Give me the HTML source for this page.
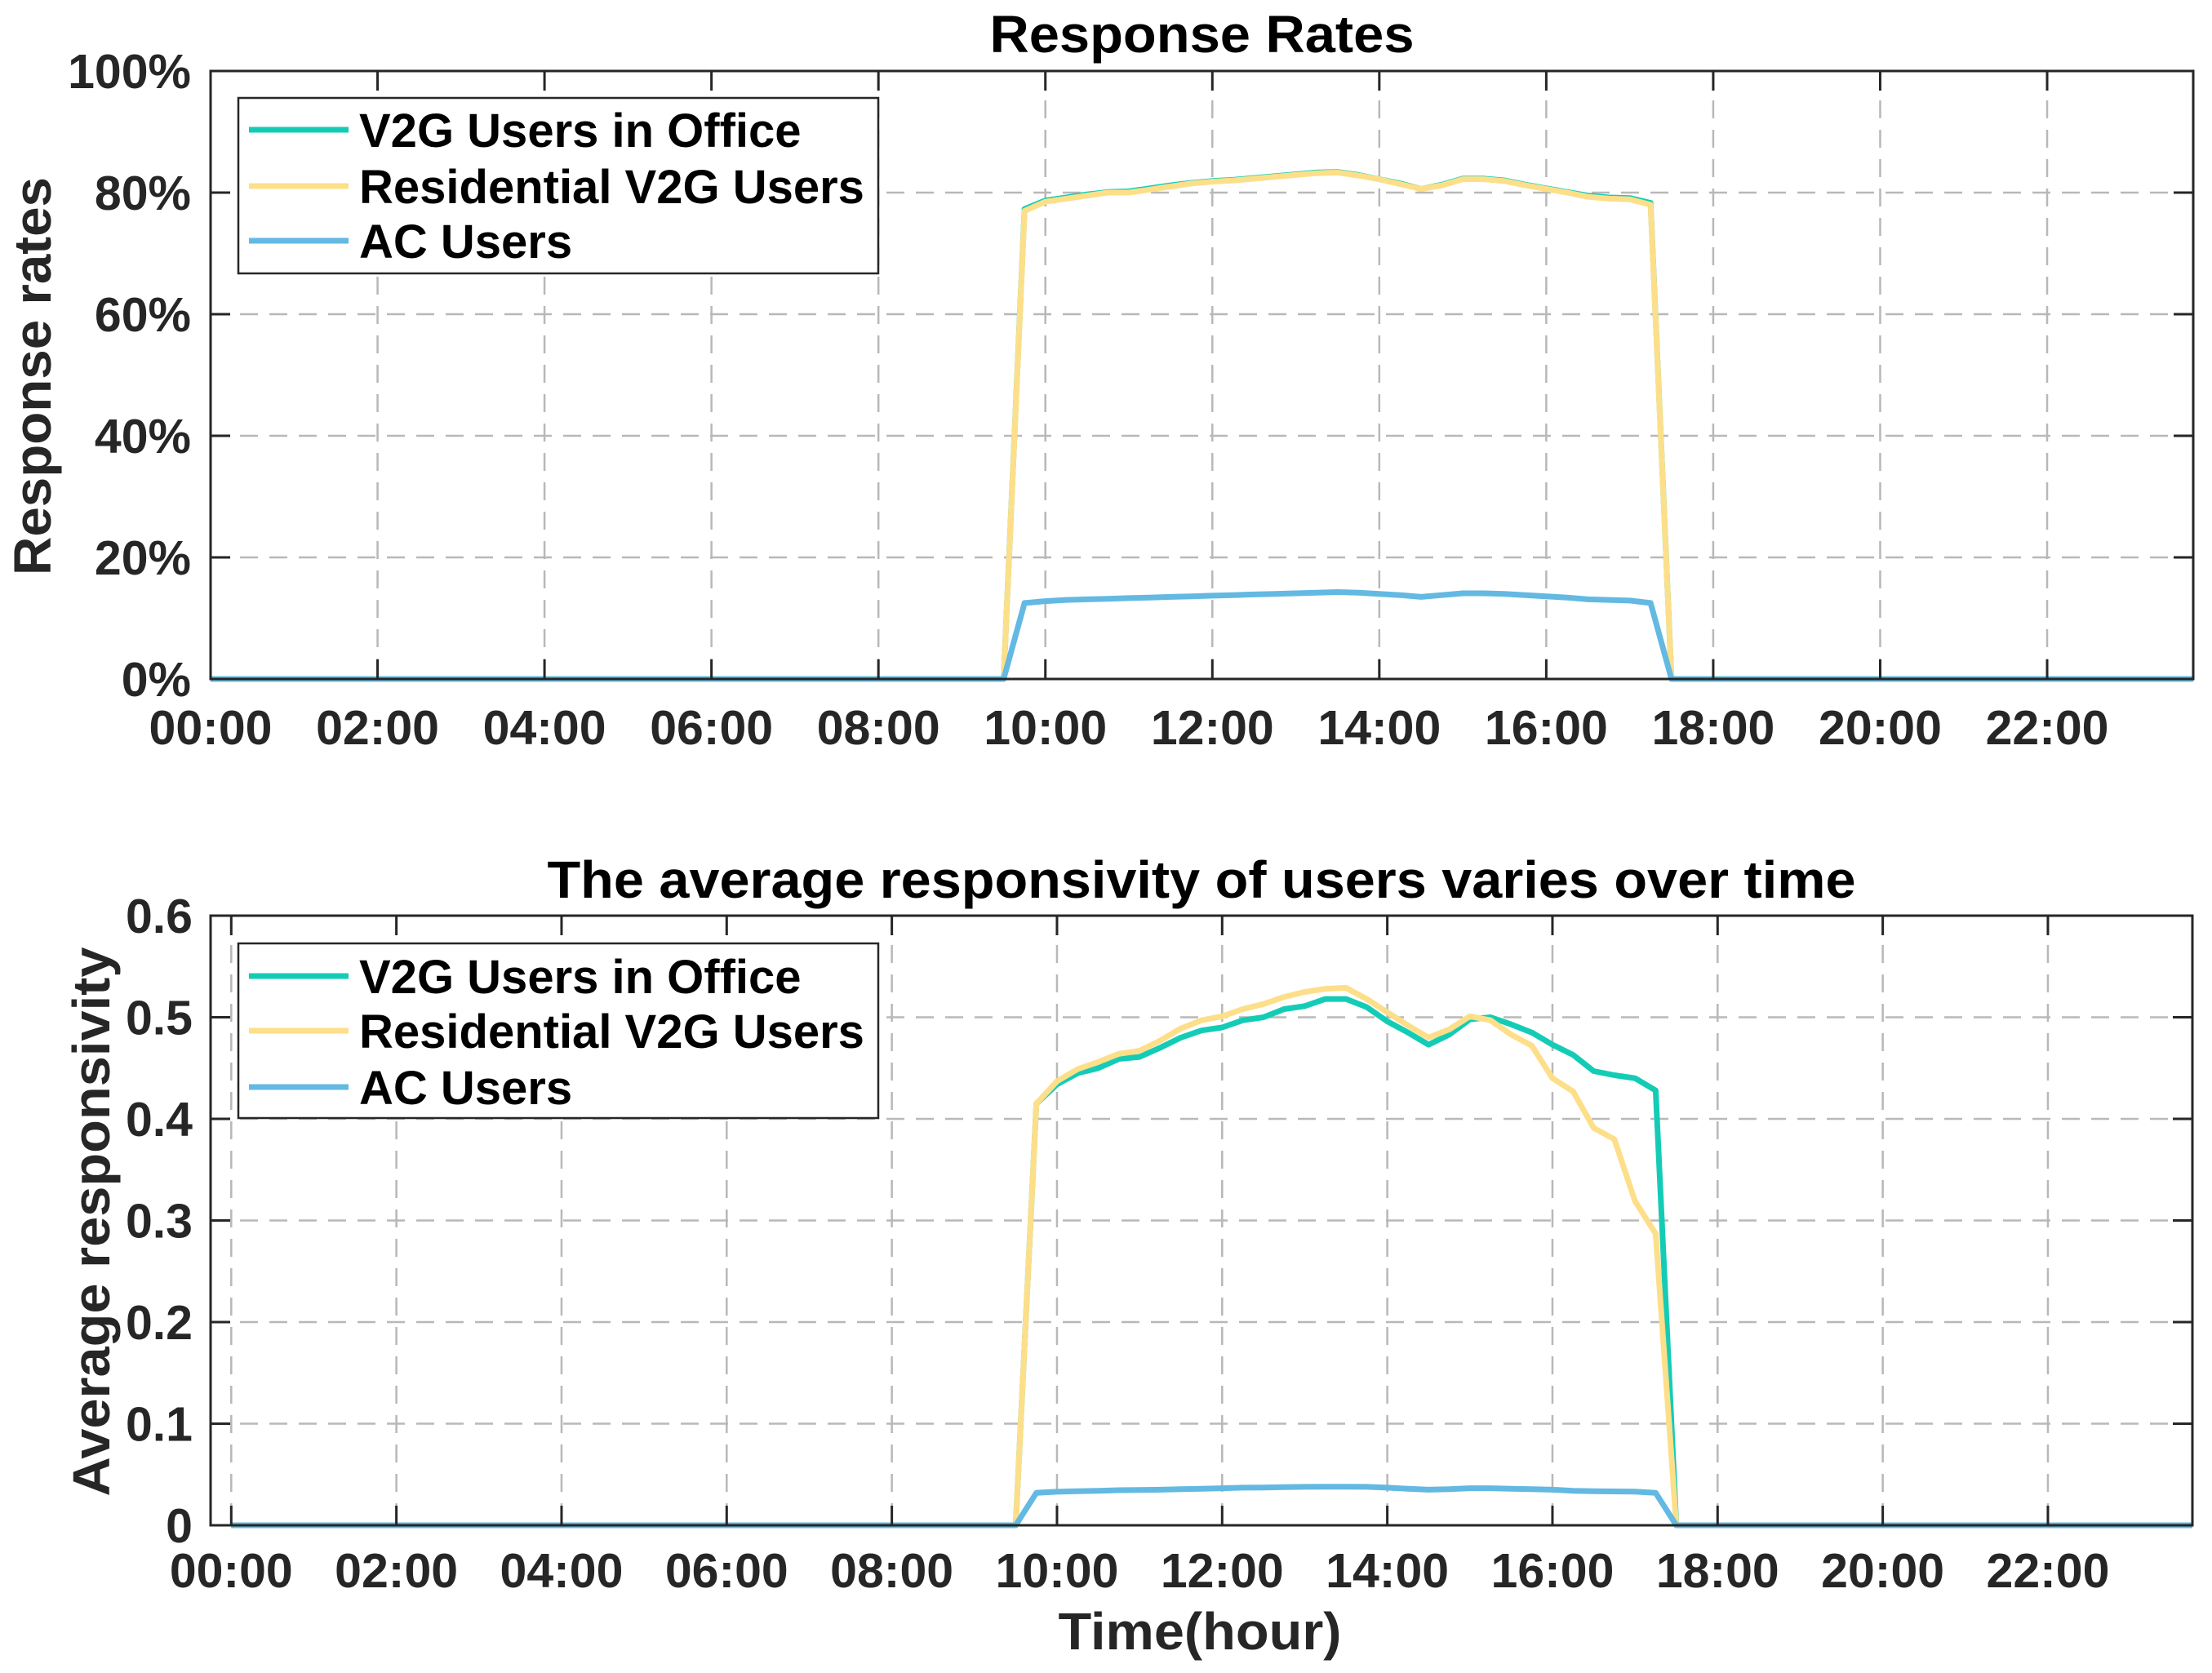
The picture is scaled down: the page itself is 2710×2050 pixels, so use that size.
<!DOCTYPE html>
<html><head><meta charset="utf-8"><style>
html,body{margin:0;padding:0;background:#fff;}
svg{display:block;font-family:"Liberation Sans",Arial,sans-serif;font-weight:bold;}
</style></head><body>
<svg id="fig" width="2710" height="2050" viewBox="0 0 2710 2050" xmlns="http://www.w3.org/2000/svg"></svg>
<script>
const seriesNames = ["V2G Users in Office","Residential V2G Users","AC Users"];
const colors = ["#14CCB6","#FDDF8A","#63B9E2"];
const xTickLabels = ["00:00","02:00","04:00","06:00","08:00","10:00","12:00","14:00","16:00","18:00","20:00","22:00"];
const xTickHours = [0,2,4,6,8,10,12,14,16,18,20,22];
const topYTicks = [0,20,40,60,80,100];
const topYTickLabels = ["0%","20%","40%","60%","80%","100%"];
const botYTicks = [0,0.1,0.2,0.3,0.4,0.5,0.6];
const botYTickLabels = ["0","0.1","0.2","0.3","0.4","0.5","0.6"];
const rateOffice = [0,0,0,0,0,0,0,0,0,0,0,0,0,0,0,0,0,0,0,0,0,0,0,0,0,0,0,0,0,0,0,0,0,0,0,0,0,0,0,
0.773,0.787,0.792,0.797,0.801,0.802,0.807,0.812,0.816,0.819,0.821,0.824,0.827,0.830,0.833,0.834,0.829,0.822,0.815,0.806,0.813,0.823,0.823,0.820,0.813,0.807,0.801,0.795,0.792,0.791,0.783,
0,0,0,0,0,0,0,0,0,0,0,0,0,0,0,0,0,0,0,0,0,0,0,0,0,0];
const rateResidential = [0,0,0,0,0,0,0,0,0,0,0,0,0,0,0,0,0,0,0,0,0,0,0,0,0,0,0,0,0,0,0,0,0,0,0,0,0,0,0,
0.77,0.785,0.79,0.795,0.80,0.80,0.805,0.81,0.815,0.818,0.82,0.823,0.826,0.829,0.832,0.833,0.828,0.822,0.814,0.806,0.812,0.822,0.822,0.819,0.812,0.806,0.80,0.793,0.79,0.789,0.78,
0,0,0,0,0,0,0,0,0,0,0,0,0,0,0,0,0,0,0,0,0,0,0,0,0,0];
const rateAC = [0,0,0,0,0,0,0,0,0,0,0,0,0,0,0,0,0,0,0,0,0,0,0,0,0,0,0,0,0,0,0,0,0,0,0,0,0,0,0,
0.125,0.128,0.13,0.131,0.132,0.133,0.134,0.135,0.136,0.137,0.138,0.139,0.14,0.141,0.142,0.143,0.142,0.14,0.138,0.135,0.138,0.141,0.141,0.14,0.138,0.136,0.134,0.131,0.13,0.129,0.125,
0,0,0,0,0,0,0,0,0,0,0,0,0,0,0,0,0,0,0,0,0,0,0,0,0,0];
const respOffice = [0,0,0,0,0,0,0,0,0,0,0,0,0,0,0,0,0,0,0,0,0,0,0,0,0,0,0,0,0,0,0,0,0,0,0,0,0,0,0,
0.415,0.434,0.445,0.45,0.459,0.461,0.47,0.48,0.487,0.49,0.497,0.50,0.508,0.511,0.518,0.518,0.51,0.496,0.485,0.473,0.483,0.498,0.50,0.493,0.485,0.473,0.463,0.447,0.443,0.44,0.428,
0,0,0,0,0,0,0,0,0,0,0,0,0,0,0,0,0,0,0,0,0,0,0,0,0,0];
const respResidential = [0,0,0,0,0,0,0,0,0,0,0,0,0,0,0,0,0,0,0,0,0,0,0,0,0,0,0,0,0,0,0,0,0,0,0,0,0,0,0,
0.415,0.437,0.449,0.456,0.464,0.467,0.477,0.489,0.497,0.501,0.508,0.513,0.52,0.525,0.528,0.529,0.518,0.505,0.492,0.48,0.488,0.501,0.497,0.483,0.472,0.44,0.427,0.391,0.38,0.319,0.287,
0,0,0,0,0,0,0,0,0,0,0,0,0,0,0,0,0,0,0,0,0,0,0,0,0,0];
const respAC = [0,0,0,0,0,0,0,0,0,0,0,0,0,0,0,0,0,0,0,0,0,0,0,0,0,0,0,0,0,0,0,0,0,0,0,0,0,0,0,
0.032,0.033,0.0335,0.034,0.0345,0.0348,0.035,0.0355,0.036,0.0365,0.037,0.0372,0.0375,0.0378,0.038,0.038,0.0378,0.037,0.036,0.035,0.0355,0.0365,0.0365,0.036,0.0355,0.035,0.034,0.0335,0.0333,0.0332,0.032,
0,0,0,0,0,0,0,0,0,0,0,0,0,0,0,0,0,0,0,0,0,0,0,0,0,0];

const NS="http://www.w3.org/2000/svg";
const svg=document.getElementById('fig');
function mk(tag,attrs,parent){const e=document.createElementNS(NS,tag);for(const k in attrs)e.setAttribute(k,attrs[k]);(parent||svg).appendChild(e);return e;}

function drawPanel(cfg){
  const g=mk('g',{});
  
  
  const L=cfg.left,R=cfg.right,T=cfg.top,B=cfg.bottom;
  const xs=h=>L+(h-cfg.xmin)/(cfg.xmax-cfg.xmin)*(R-L);
  const ys=v=>B-(v-cfg.ymin)/(cfg.ymax-cfg.ymin)*(B-T);
  const grid=mk('g',{stroke:'#b8b8b8','stroke-width':2.5,'stroke-dasharray':'22 14'},g);
  
  
  xTickHours.forEach(h=>{mk('line',{x1:xs(h),x2:xs(h),y1:T,y2:B},grid);});
  cfg.yTicks.forEach(v=>{mk('line',{x1:L,x2:R,y1:ys(v),y2:ys(v)},grid);});
  cfg.series.forEach((arr,si)=>{
    let d='';
    arr.forEach((v,i)=>{const h=i*0.25;d+=(i?'L':'M')+xs(h).toFixed(1)+','+ys(v).toFixed(1);});
    const p=mk('path',{d:d,fill:'none',stroke:colors[si],'stroke-width':7,'stroke-linejoin':'round'},g);
    
    
  });
  const box=mk('rect',{x:L,y:T,width:R-L,height:B-T,fill:'none',stroke:'#262626','stroke-width':3},g);
  
  
  const tk=mk('g',{stroke:'#262626','stroke-width':3},g);
  xTickHours.forEach(h=>{mk('line',{x1:xs(h),x2:xs(h),y1:B,y2:B-24},tk);mk('line',{x1:xs(h),x2:xs(h),y1:T,y2:T+24},tk);});
  cfg.yTicks.forEach(v=>{mk('line',{x1:L,x2:L+24,y1:ys(v),y2:ys(v)},tk);mk('line',{x1:R,x2:R-24,y1:ys(v),y2:ys(v)},tk);});
  xTickHours.forEach((h,i)=>{
    const t=mk('text',{x:xs(h),y:cfg.xLabY,'text-anchor':'middle','font-size':59,fill:'#262626'},g);
    t.textContent=xTickLabels[i];
    
    
  });
  cfg.yTicks.forEach((v,i)=>{
    const t=mk('text',{x:cfg.yLabX,y:ys(v)+21,'text-anchor':'end','font-size':59,fill:'#262626'},g);
    t.textContent=cfg.yTickLabels[i];
    
    
  });
  const ti=mk('text',{x:(L+R)/2,y:cfg.titleY,'text-anchor':'middle','font-size':64,fill:'#000',textLength:cfg.titleLen,lengthAdjust:'spacingAndGlyphs'},g);
  ti.textContent=cfg.title;
  
  
  const yl=mk('text',{x:0,y:0,'text-anchor':'middle','font-size':64,fill:'#262626',textLength:cfg.yTitleLen,lengthAdjust:'spacingAndGlyphs',transform:'translate('+cfg.yTitleX+','+cfg.yTitleY+') rotate(-90)'},g);
  yl.textContent=cfg.yTitle;
  
  
  const lg=mk('g',{},g);
  
  
  mk('rect',{x:292,y:cfg.legTop,width:784,height:cfg.legH,fill:'#fff',stroke:'#262626','stroke-width':2.5},lg);
  seriesNames.forEach((n,i)=>{
    const cy=cfg.legRows[i];
    const e=mk('g',{},lg);
    
    
    mk('line',{x1:305,x2:427,y1:cy,y2:cy,stroke:colors[i],'stroke-width':7},e);
    const t=mk('text',{x:440,y:cy+21,'font-size':58,fill:'#000'},e);
    t.textContent=n;
  });
}

drawPanel({name:'response-rates-chart',left:258,right:2687,top:87,bottom:832,xmin:0,xmax:23.75,ymin:0,ymax:100,
  series:[rateOffice.map(v=>v*100),rateResidential.map(v=>v*100),rateAC.map(v=>v*100)],
  yTicks:topYTicks,yTickLabels:topYTickLabels,xLabY:912,yLabX:234,
  title:'Response Rates',titleY:64,titleLen:520,
  yTitle:'Response rates',yTitleX:62,yTitleY:461,yTitleLen:488,
  legTop:120,legH:215,legRows:[159,228,295]});

drawPanel({name:'average-responsivity-chart',left:258,right:2686,top:1122,bottom:1869,xmin:-0.25,xmax:23.75,ymin:0,ymax:0.6,
  series:[respOffice,respResidential,respAC],
  yTicks:botYTicks,yTickLabels:botYTickLabels,xLabY:1945,yLabX:236,
  title:'The average responsivity of users varies over time',titleY:1100,titleLen:1603,
  yTitle:'Average responsivity',yTitleX:134,yTitleY:1497,yTitleLen:673,
  legTop:1156,legH:214,legRows:[1196,1263,1332]});

const xl=mk('text',{x:1470,y:2021,'text-anchor':'middle','font-size':64,fill:'#262626',textLength:347,lengthAdjust:'spacingAndGlyphs'});
xl.textContent='Time(hour)';


</script>
</body></html>
